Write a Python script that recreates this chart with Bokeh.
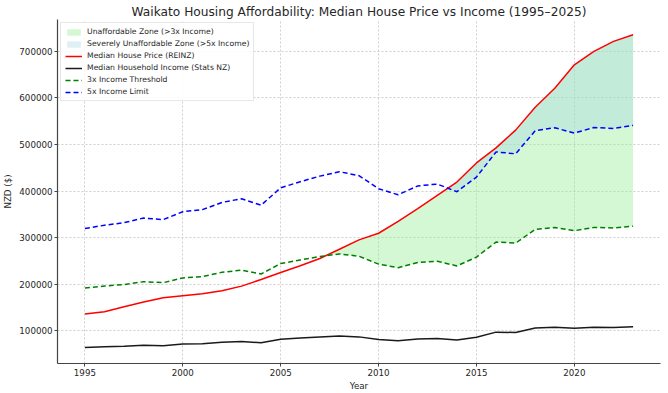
import numpy as np
from bokeh.plotting import figure
from bokeh.models import (Range1d, FixedTicker, NumeralTickFormatter, Legend, LegendItem,
                          ColumnDataSource)
from bokeh.embed import file_html
from bokeh.resources import INLINE

# ---- data ----
years = [1995, 1996, 1997, 1998, 1999, 2000, 2001, 2002, 2003, 2004,
         2005, 2006, 2007, 2008, 2009, 2010, 2011, 2012, 2013, 2014,
         2015, 2016, 2017, 2018, 2019, 2020, 2021, 2022, 2023]
house_price = [135700, 140700, 151400, 161400, 170700, 175000, 179300, 185700, 195700, 210000,
               225000, 239300, 255000, 275000, 295000, 309300, 335000, 362000, 390600, 419400,
               460400, 492800, 530900, 579900, 620900, 671200, 700000, 721600, 736000]
income = [63900, 65300, 66400, 68400, 67700, 71100, 72000, 75100, 76700, 73900,
          81400, 84000, 86400, 88300, 86600, 81000, 78400, 82200, 83000, 79700,
          86000, 96800, 96000, 105900, 107200, 104900, 107300, 106900, 108200]
thr3 = [191700, 195900, 199200, 205200, 203100, 213300, 216000, 225300, 230100, 221700,
        244200, 252000, 259200, 264900, 259800, 243000, 235200, 246600, 249000, 239100,
        258000, 290400, 288000, 317700, 321600, 314700, 321900, 320700, 324600]
thr5 = [319500, 326500, 332000, 342000, 338500, 355500, 360000, 375500, 383500, 369500,
        407000, 420000, 432000, 441500, 433000, 405000, 392000, 411000, 415000, 398500,
        430000, 484000, 480000, 529500, 536000, 524500, 536500, 534500, 541000]
x_ticks = [1995, 2000, 2005, 2010, 2015, 2020]
y_ticks = [100000, 200000, 300000, 400000, 500000, 600000, 700000]

FONT = "DejaVu Sans"
TXT = "#262626"


def zone(xs, upper, lower):
    """Area between upper and lower where upper > lower, with crossings interpolated."""
    xs = np.asarray(xs, float)
    up = np.asarray(upper, float)
    lo = np.asarray(lower, float)
    d = up - lo
    xa = list(xs)
    for i in range(len(xs) - 1):
        if d[i] * d[i + 1] < 0:
            t = d[i] / (d[i] - d[i + 1])
            xa.append(xs[i] + t * (xs[i + 1] - xs[i]))
    xa = np.array(sorted(xa))
    u = np.interp(xa, xs, up)
    l = np.interp(xa, xs, lo)
    return xa, l, np.maximum(u, l)


p = figure(width=668, height=393, output_backend="svg", toolbar_location=None,
           x_range=Range1d(1993.6, 2024.4), y_range=Range1d(29400, 768600),
           min_border_left=4, min_border_right=8, min_border_top=19, min_border_bottom=30)

p.title.text = "Waikato Housing Affordability: Median House Price vs Income (1995\u20132025)"
p.title.text_font = FONT
p.title.text_font_size = "12.2px"
p.title.text_font_style = "normal"
p.title.text_color = TXT
p.title.align = "center"
p.title.standoff = 2
p.title.offset = 0

p.outline_line_color = None
p.background_fill_color = "white"

xa, l3, u3 = zone(years, house_price, thr3)
xb, l5, u5 = zone(years, house_price, thr5)
r_z3 = p.varea(x=xa, y1=l3, y2=u3, fill_color="#90ee90", fill_alpha=0.4)
r_z5 = p.varea(x=xb, y1=l5, y2=u5, fill_color="#add8e6", fill_alpha=0.4)

src = ColumnDataSource(dict(x=years, price=house_price, inc=income, t3=thr3, t5=thr5))
r_price = p.line("x", "price", source=src, line_color="#ff0000", line_width=1.5)
r_inc = p.line("x", "inc", source=src, line_color="#1a1a1a", line_width=1.5)
r_t3 = p.line("x", "t3", source=src, line_color="#008000", line_width=1.5, line_dash="5 3")
r_t5 = p.line("x", "t5", source=src, line_color="#0000ff", line_width=1.5, line_dash="5 3")

# axes
for ax in (p.xaxis[0], p.yaxis[0]):
    ax.axis_line_color = "#444444"
    ax.axis_line_width = 1.2
    ax.major_tick_line_color = "#444444"
    ax.major_tick_out = 3
    ax.major_tick_in = 0
    ax.minor_tick_out = 0
    ax.minor_tick_in = 0
    ax.major_label_text_font = FONT
    ax.major_label_text_font_size = "8.7px"
    ax.major_label_text_color = TXT
    ax.axis_label_text_font = FONT
    ax.axis_label_text_font_size = "8.7px"
    ax.axis_label_text_font_style = "normal"
    ax.axis_label_text_color = TXT
    ax.major_label_standoff = 2

p.xaxis.ticker = FixedTicker(ticks=x_ticks)
p.yaxis.ticker = FixedTicker(ticks=y_ticks)
p.yaxis.formatter = NumeralTickFormatter(format="0")
p.xaxis.axis_label = "Year"
p.yaxis.axis_label = "NZD ($)"
p.xaxis.axis_label_standoff = 2
p.yaxis.axis_label_standoff = 3

for g in (p.xgrid[0], p.ygrid[0]):
    g.grid_line_color = "#cfcfcf"
    g.grid_line_dash = "2 2"
    g.grid_line_width = 1

legend = Legend(items=[
    LegendItem(label="Unaffordable Zone (>3x Income)", renderers=[r_z3]),
    LegendItem(label="Severely Unaffordable Zone (>5x Income)", renderers=[r_z5]),
    LegendItem(label="Median House Price (REINZ)", renderers=[r_price]),
    LegendItem(label="Median Household Income (Stats NZ)", renderers=[r_inc]),
    LegendItem(label="3x Income Threshold", renderers=[r_t3]),
    LegendItem(label="5x Income Limit", renderers=[r_t5]),
], location="top_left")
legend.label_text_font = FONT
legend.label_text_font_size = "7.7px"
legend.label_text_color = TXT
legend.label_height = 8
legend.glyph_height = 8
legend.glyph_width = 17
legend.spacing = 3
legend.padding = 4
legend.margin = 3
legend.label_standoff = 5
legend.border_line_color = "#d0d0d0"
legend.border_line_width = 1
legend.background_fill_alpha = 0.85
p.add_layout(legend, "center")

open("out.html", "w").write(file_html(p, INLINE))
